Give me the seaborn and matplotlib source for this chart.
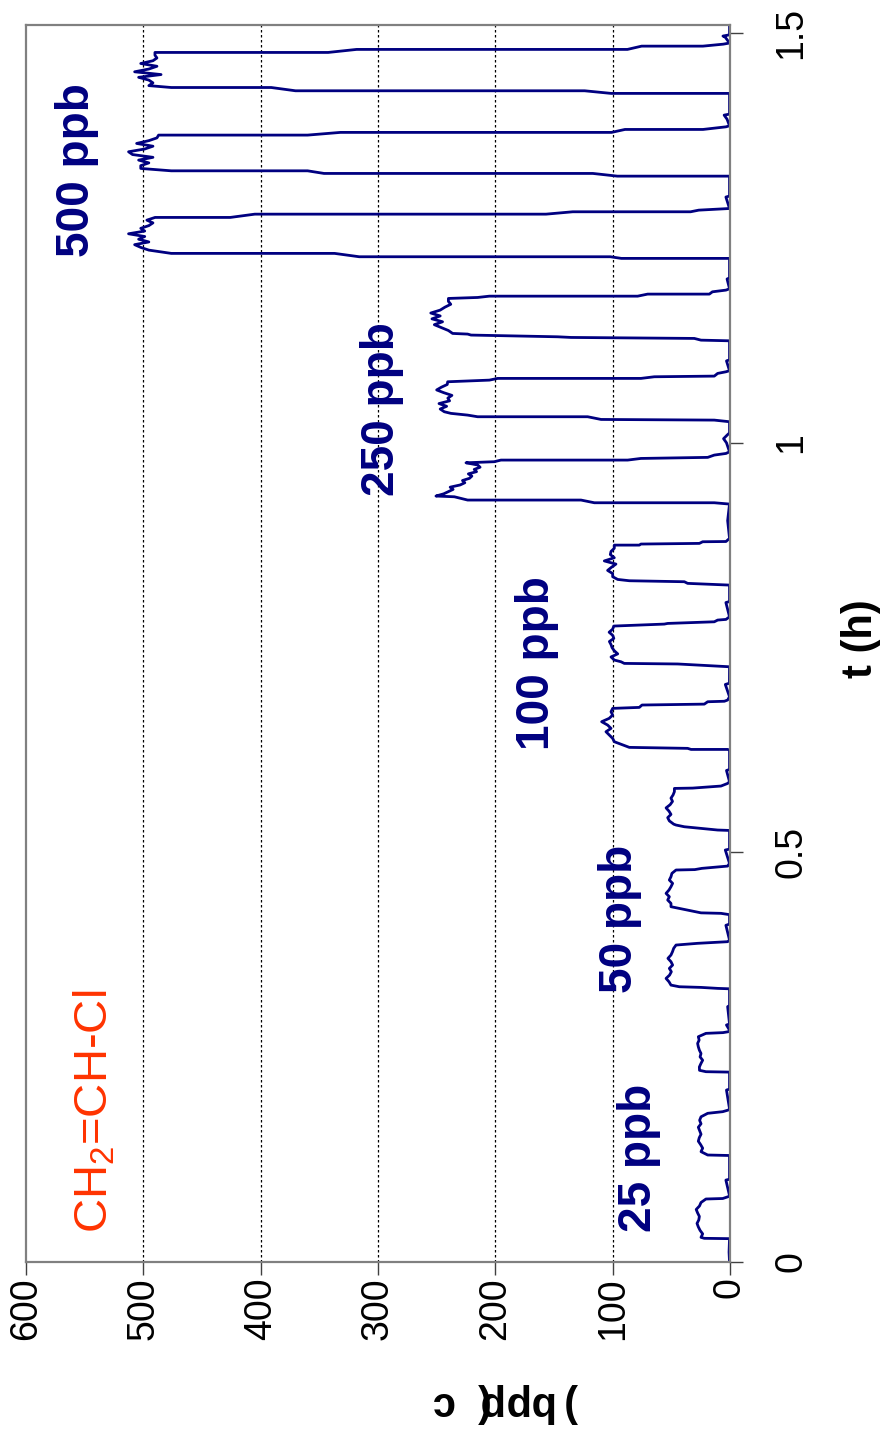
import numpy as np
import pandas as pd
import matplotlib
matplotlib.use("Agg")
import matplotlib.pyplot as plt
import seaborn as sns

# ---------------- data: vinyl chloride response, c (ppb) vs t (h) ----------------
# Each pulse: rising edge vertices, plateau readings, falling edge vertices.

# 25 ppb
rise_t_25 = [[0.0285, 0.0289, 0.0301], [0.1300, 0.1306, 0.1347], [0.2318, 0.2323, 0.2340]]
rise_c_25 = [[0.4, 21.9, 24.7], [0.4, 19.0, 24.7], [0.4, 20.5, 26.0]]
plat_25 = [[23.3, 25.5, 27.0, 28.1, 26.6, 26.1, 27.6, 28.8, 26.0, 24.7],
           [23.3, 25.0, 27.0, 26.2, 24.7, 25.8, 27.0, 24.7, 25.9, 24.7],
           [26.1, 24.8, 23.3, 25.5, 24.7, 26.1, 27.0, 27.6, 26.3, 27.0]]
fall_t_25 = [[0.0769, 0.0775, 0.0798, 0.0810], [0.1815, 0.1835, 0.1855, 0.1870],
             [0.2791, 0.2800, 0.2811, 0.2830]]
fall_c_25 = [[20.5, 6.2, 1.4, 0.4], [19.0, 6.2, 1.4, 0.4], [20.5, 6.0, 1.4, 0.4]]

# 50 ppb
rise_t_50 = [[0.3335, 0.3340, 0.3352, 0.3360, 0.3380], [0.4240, 0.4256, 0.4262, 0.4317, 0.4337],
             [0.5268, 0.5273, 0.5313, 0.5334, 0.5345]]
rise_c_50 = [[0.4, 10.5, 24.7, 43.2, 50.3], [0.4, 7.7, 24.7, 43.2, 50.3], [0.4, 10.5, 38.9, 46.0, 48.0]]
plat_50 = [[52.0, 54.5, 51.5, 50.0, 51.7, 48.9, 50.3, 52.9, 50.3, 49.0],
           [50.3, 53.1, 51.7, 54.5, 52.0, 50.3, 48.9, 51.7, 50.3, 49.5],
           [51.7, 53.1, 50.3, 52.0, 54.5, 51.0, 49.0, 50.3, 48.5, 47.4]]
fall_t_50 = [[0.3829, 0.3869, 0.3890, 0.3910, 0.3930], [0.4785, 0.4790, 0.4805, 0.4833, 0.4866],
             [0.5781, 0.5785, 0.5810, 0.5842, 0.5863]]
fall_c_50 = [[48.0, 46.0, 27.6, 2.0, 0.4], [46.0, 30.0, 24.0, 2.0, 0.4], [47.4, 31.8, 7.7, 2.0, 0.4]]

# 100 ppb
rise_t_100 = [[0.6249, 0.6257, 0.6257, 0.6270, 0.6282, 0.6351],
              [0.7266, 0.7299, 0.7300, 0.7307, 0.7327, 0.7348],
              [0.8263, 0.8284, 0.8304, 0.8316, 0.8332, 0.8365]]
rise_c_100 = [[0.4, 2.0, 33.2, 36.1, 85.8, 98.6], [0.4, 41.8, 44.6, 90.1, 92.9, 98.6],
              [0.4, 36.1, 38.9, 85.8, 95.7, 100.0]]
plat_100 = [[100.0, 102.8, 105.7, 101.4, 104.3, 109.4, 103.0, 100.0, 101.4],
            [101.4, 95.7, 98.6, 100.5, 101.4, 102.8, 99.0, 100.0, 103.0, 100.0],
            [100.0, 104.3, 101.0, 97.2, 107.1, 98.6, 102.0, 101.4, 98.6]]
fall_t_100 = [[0.6758, 0.6770, 0.6799, 0.6810, 0.6839, 0.6845, 0.6860, 0.6900],
              [0.7763, 0.7787, 0.7795, 0.7815, 0.7836, 0.7844, 0.7876],
              [0.8751, 0.8751, 0.8764, 0.8772, 0.8792, 0.8795, 0.8833]]
fall_c_100 = [[100.0, 77.3, 75.0, 21.9, 19.0, 4.8, 2.0, 0.4],
              [99.0, 56.0, 53.1, 13.4, 10.5, 3.4, 0.4],
              [98.6, 77.3, 75.9, 26.1, 23.3, 3.4, 0.4]]

# 250 ppb
rise_t_250 = [[0.9252, 0.9268, 0.9268, 0.9301, 0.9301, 0.9341, 0.9350],
              [1.0257, 1.0277, 1.0285, 1.0318, 1.0318, 1.0338, 1.0359, 1.0379],
              [1.1245, 1.1253, 1.1274, 1.1286, 1.1294, 1.1315, 1.1327, 1.1335]]
rise_c_250 = [[0.4, 13.4, 115.6, 127.0, 223.6, 234.9, 250.6],
              [0.4, 13.4, 109.9, 121.3, 215.1, 223.6, 237.8, 243.5],
              [0.4, 24.7, 30.4, 135.5, 146.9, 220.7, 223.6, 236.4]]
plat_250 = [[244.0, 240.0, 236.0, 238.5, 230.0, 226.0, 228.0, 222.0, 220.0, 223.0, 216.0, 218.0, 213.0, 215.0],
            [247.0, 241.5, 248.0, 239.0, 240.5, 237.0, 244.0, 250.0, 246.0, 241.0],
            [240.0, 246.0, 252.0, 245.0, 254.0, 247.0, 255.0, 247.0, 243.0, 238.0, 240.0]]
fall_t_250 = [[0.9756, 0.9769, 0.9789, 0.9789, 0.9809, 0.9822, 0.9850, 0.9870, 0.9890],
              [1.0745, 1.0765, 1.0786, 1.0786, 1.0806, 1.0814, 1.0847, 1.0867, 1.0880],
              [1.1762, 1.1774, 1.1790, 1.1790, 1.1815, 1.1815, 1.1843, 1.1864, 1.1880]]
fall_c_250 = [[225.0, 200.9, 195.2, 87.2, 75.9, 19.0, 13.4, 3.4, 0.4],
              [240.6, 205.1, 198.0, 75.9, 64.5, 13.4, 10.5, 3.4, 0.4],
              [240.0, 215.1, 205.1, 78.7, 70.2, 17.6, 15.0, 3.4, 0.4]]

# 500 ppb
rise_t_500 = [[1.2251, 1.2251, 1.2271, 1.2271, 1.2312, 1.2312, 1.2352],
              [1.3255, 1.3255, 1.3288, 1.3288, 1.3320, 1.3320, 1.3349],
              [1.4265, 1.4265, 1.4297, 1.4297, 1.4337, 1.4337, 1.4360]]
rise_c_500 = [[0.4, 92.6, 102.0, 316.0, 337.0, 476.2, 495.3],
              [0.4, 96.0, 116.9, 346.0, 360.0, 476.2, 502.2],
              [0.4, 101.3, 123.9, 370.3, 391.0, 476.2, 495.3]]
plat_500 = [[502.2, 507.4, 495.3, 504.0, 498.8, 512.6, 498.8, 502.2, 495.3, 491.8, 497.0],
            [502.2, 495.3, 504.0, 491.8, 509.2, 512.6, 498.8, 491.8, 505.7, 495.3, 488.4],
            [491.8, 495.3, 504.0, 484.9, 507.4, 495.3, 488.4, 502.2, 491.8, 488.4, 490.1]]
fall_t_500 = [[1.2751, 1.2751, 1.2791, 1.2791, 1.2820, 1.2820, 1.2840, 1.2860],
              [1.3756, 1.3756, 1.3789, 1.3789, 1.3825, 1.3825, 1.3857, 1.3870],
              [1.4765, 1.4765, 1.4802, 1.4802, 1.4842, 1.4842, 1.4866, 1.4880]]
fall_c_500 = [[490.0, 425.9, 405.0, 156.8, 134.0, 33.6, 26.6, 0.4],
              [487.0, 360.0, 332.0, 101.0, 89.5, 23.0, 3.4, 0.4],
              [490.1, 342.5, 318.2, 87.4, 75.3, 23.1, 5.8, 0.4]]

# baseline between pulses (small blips)
base_t = [0.0000, 0.0120, 0.1000, 0.1010, 0.2099, 0.2110, 0.2893, 0.2905, 0.3117, 0.3130,
          0.4110, 0.4125, 0.5029, 0.5040, 0.6000, 0.6012, 0.7050, 0.7065, 0.8050, 0.8062,
          0.9050, 1.0000, 1.0050, 1.0100, 1.0120, 1.1000, 1.1012, 1.2000, 1.2012, 1.3000,
          1.3012, 1.3950, 1.4000, 1.4012, 1.4950, 1.4965, 1.4980, 1.5100]
base_c = [0.4, 0.8, 3.5, 0.4, 3.0, 0.4, 3.0, 0.4, 2.0, 0.4,
          3.5, 0.4, 4.0, 0.4, 3.0, 0.4, 4.0, 0.5, 3.5, 0.4,
          2.0, 3.0, 5.5, 2.0, 0.4, 3.0, 0.4, 2.5, 0.4, 3.5,
          0.4, 2.5, 5.0, 0.4, 4.0, 6.0, 0.4, 0.4]

labels_ppb = ["25 ppb", "50 ppb", "100 ppb", "250 ppb", "500 ppb"]
c_ticks = [0, 100, 200, 300, 400, 500, 600]
t_ticks = [0, 0.5, 1, 1.5]
t_ticklabels = ["0", "0.5", "1", "1.5"]


def pulse_trace(rise_t, rise_c, plat_c, fall_t, fall_c):
    ts, cs = [], []
    for rt, rc, pc, ft, fc in zip(rise_t, rise_c, plat_c, fall_t, fall_c):
        pt = np.linspace(rt[-1], ft[0], len(pc) + 2)[1:-1]
        ts += list(rt) + list(pt) + list(ft)
        cs += list(rc) + list(pc) + list(fc)
    return ts, cs


groups = [
    (rise_t_25, rise_c_25, plat_25, fall_t_25, fall_c_25),
    (rise_t_50, rise_c_50, plat_50, fall_t_50, fall_c_50),
    (rise_t_100, rise_c_100, plat_100, fall_t_100, fall_c_100),
    (rise_t_250, rise_c_250, plat_250, fall_t_250, fall_c_250),
    (rise_t_500, rise_c_500, plat_500, fall_t_500, fall_c_500),
]
all_t, all_c = list(base_t), list(base_c)
for g in groups:
    tt, cc = pulse_trace(*g)
    all_t += tt
    all_c += cc
order = np.argsort(np.array(all_t), kind="stable")
df = pd.DataFrame({"t": np.array(all_t)[order], "c": np.array(all_c)[order]})

# ---------------- figure ----------------
sns.set_theme(style="white")
plt.rcParams["font.family"] = ["Liberation Sans", "DejaVu Sans"]
plt.rcParams["mathtext.fontset"] = "custom"
plt.rcParams["mathtext.rm"] = "Liberation Sans"

W, H = 887, 1435
fig = plt.figure(figsize=(W / 100, H / 100), dpi=100)
ax = fig.add_axes([26 / W, (H - 1262) / H, (730 - 26) / W, (1262 - 25) / H])

navy = "#000080"
sns.lineplot(data=df, x="c", y="t", sort=False, estimator=None, ax=ax,
             color=navy, linewidth=2.0)

ax.set_xlim(600, 0)
ax.set_ylim(0, 1.51)
ax.set_xlabel("")
ax.set_ylabel("")

ax.set_xticks(c_ticks)
ax.set_xticklabels([str(v) for v in c_ticks], rotation=90)
ax.set_yticks(t_ticks)
ax.set_yticklabels(t_ticklabels)
ax.yaxis.tick_right()

ax.tick_params(axis="x", bottom=True, direction="out", length=9, width=1,
               color="#404040", labelsize=27, pad=2, labelcolor="black")
ax.tick_params(axis="y", right=True, left=False, direction="out", length=9, width=1,
               color="#404040", labelsize=27, pad=22, labelcolor="black")
for lbl in ax.get_yticklabels():
    lbl.set_rotation(90)
    lbl.set_va("center")
    lbl.set_ha("left")

ax.grid(False)
for v in c_ticks[1:-1]:
    ax.axvline(v, color="black", linewidth=0.9, linestyle=(0, (2, 2)), zorder=0)

for s in ax.spines.values():
    s.set_visible(True)
    s.set_color("#808080")
    s.set_linewidth(1.6)


def fx(x):
    return x / W


def fy(y):
    return 1 - y / H


# concentration annotations
label_pos = [(639, 1158), (620, 919), (537, 663), (382, 409), (77, 170)]
for txt, (x, y) in zip(labels_ppb, label_pos):
    fig.text(fx(x), fy(y), txt, rotation=90, ha="center", va="center",
             fontsize=33, fontweight="bold", color=navy)

fig.text(fx(95), fy(1111), r"CH$_\mathregular{2}$=CH-Cl", rotation=90, ha="center",
         va="center", fontsize=34, color="#FF3300")

# axis titles
fig.text(fx(861), fy(639), "t (h)", rotation=90, ha="center", va="center",
         fontsize=30, fontweight="bold", color="black")

title_c = "c (ppb)"
adv = {"c": 0.556, " ": 0.278, "(": 0.333, "p": 0.611, "b": 0.611, ")": 0.333}
em_px = 30 * 100 / 72
x0 = 453
for ch in title_c:
    fig.text(fx(x0), fy(1392), ch, rotation=180, rotation_mode="anchor",
             ha="left", va="baseline", fontsize=30, fontweight="bold", color="black")
    x0 += adv[ch] * em_px

fig.savefig("out.png", dpi=100)
